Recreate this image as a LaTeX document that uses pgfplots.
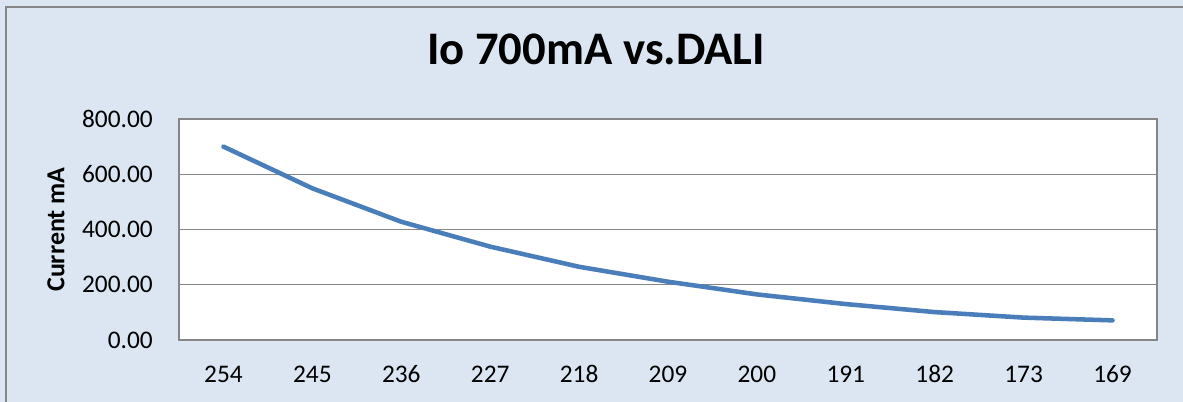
\documentclass[border=0pt]{standalone}
\usepackage{fontspec}
\setmainfont{Carlito}
\usepackage{pgfplots}
\pgfplotsset{compat=1.18}
\definecolor{bgblue}{HTML}{DCE6F2}
\definecolor{gridgray}{HTML}{868686}
\definecolor{lineblue}{HTML}{4A7EBB}
\begin{document}
\begin{tikzpicture}
\useasboundingbox (-134.25pt,-46.5pt) rectangle (753pt,255pt);
\begin{scope}
\clip (-134.25pt,-46.5pt) rectangle (753pt,255pt);
\fill[bgblue] (-134.25pt,-46.5pt) rectangle (753pt,255pt);
\draw[gridgray,line width=1.5pt] (-130.1pt,-50pt) -- (-130.1pt,249.8pt) -- (760pt,249.8pt);
\end{scope}
\begin{axis}[
  at={(0pt,0pt)}, anchor=south west,
  scale only axis, width=733.5pt, height=165.75pt,
  xmin=-0.5, xmax=10.5, ymin=0, ymax=800,
  xtick={0,...,10},
  xticklabels={254,245,236,227,218,209,200,191,182,173,169},
  ytick={0,200,400,600,800},
  ymajorgrids,
  grid style={gridgray, line width=1.1pt},
  axis line style={gridgray, line width=1.1pt},
  major tick length=0pt,
  axis background/.style={fill=white},
  tick label style={font=\fontsize{19}{22}\selectfont, text=black},
  yticklabel style={inner sep=0pt, anchor=east, xshift=-19.5pt},
  xticklabel style={inner sep=0pt, anchor=center, yshift=-25.5pt},
  /pgf/number format/.cd, fixed, fixed zerofill, precision=2, assume math mode=true,
  /pgfplots/.cd,
  title={Io 700mA vs.DALI},
  title style={font=\fontsize{35}{40}\selectfont\bfseries, at={(axis description cs:0.4264,1.2113)}, anchor=base, inner sep=0pt},
  ylabel={Current mA},
  ylabel style={font=\fontsize{19.5}{22}\selectfont\bfseries, at={(axis description cs:-0.1258,0.5)}, anchor=center, inner sep=0pt},
]
\addplot[lineblue, line width=3.4pt, line cap=round, line join=round] coordinates {
  (0,700) (1,549) (2,428) (3,338) (4,265) (5,211) (6,165) (7,130) (8,101) (9,81) (10,71)
};
\end{axis}
\end{tikzpicture}
\end{document}
